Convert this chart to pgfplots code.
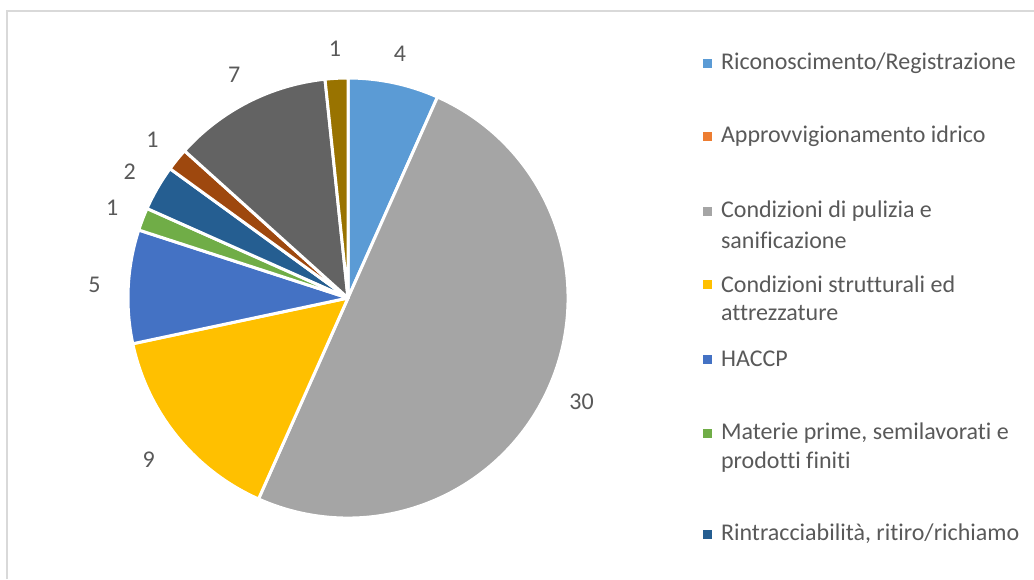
\documentclass[border=0pt]{standalone}
\usepackage{fontspec}
\setmainfont{Carlito}[Ligatures=CommonOff]
\usepackage{pgfplots}
\usepackage{pgfplotstable}
\pgfplotsset{compat=1.18}

\definecolor{sRic}{HTML}{5B9BD5}
\definecolor{sApp}{HTML}{ED7D31}
\definecolor{sPul}{HTML}{A5A5A5}
\definecolor{sStr}{HTML}{FFC000}
\definecolor{sHac}{HTML}{4472C4}
\definecolor{sMat}{HTML}{70AD47}
\definecolor{sRin}{HTML}{255E91}
\definecolor{sSeven}{HTML}{9E480E}
\definecolor{sEight}{HTML}{636363}
\definecolor{sNine}{HTML}{997300}
\definecolor{txt}{HTML}{595959}
\definecolor{frame}{HTML}{D9D9D9}

% one row per slice, clockwise from 12 o'clock
\pgfplotstableread{
value color
4  sRic
0  sApp
30 sPul
9  sStr
5  sHac
1  sMat
2  sRin
1  sSeven
7  sEight
1  sNine
}\piedata

\begin{document}
\begin{tikzpicture}
\begin{axis}[
    scale only axis,
    width=517pt, height=289.5pt,
    xmin=0, xmax=1034, ymin=0, ymax=579,
    y dir=reverse,
    axis lines=none,
    clip=false,
    font=\fontsize{12}{14.5}\selectfont,
]
% frame of the chart area
\draw[frame, line width=0.8pt] (axis cs:7,579) -- (axis cs:7,11) -- (axis cs:1034,11);

\pgfplotstablegetrowsof{\piedata}
\pgfmathtruncatemacro\nrows{\pgfplotsretval-1}
\def\total{0}
\pgfplotsforeachungrouped \i in {0,...,\nrows}{
  \pgfplotstablegetelem{\i}{value}\of\piedata
  \pgfmathsetmacro\total{\total+\pgfplotsretval}
}
\pgfmathsetmacro\degper{360/\total}
\def\cum{0}
\pgfplotsforeachungrouped \i in {0,...,\nrows}{
  \pgfplotstablegetelem{\i}{value}\of\piedata \let\v\pgfplotsretval
  \pgfplotstablegetelem{\i}{color}\of\piedata \let\c\pgfplotsretval
  \pgfmathsetmacro\aA{90-\degper*\cum}
  \pgfmathsetmacro\aB{90-\degper*(\cum+\v)}
  \pgfmathsetmacro\aM{(\aA+\aB)/2}
  \pgfmathsetmacro\dl{254-4*sin(\aM)}
  \pgfmathsetmacro\cum{\cum+\v}
  \ifnum\v>0
    \edef\temp{\noexpand\filldraw[fill=\c, draw=white, line width=1.5pt, line join=round]
      (axis cs:348,298) -- (axis cs:{348+220*cos(\aA)},{298-220*sin(\aA)})
      arc[start angle=\aA, end angle=\aB, radius=110pt] -- cycle;
      \noexpand\node[text=txt] at (axis cs:{348+\dl*cos(\aM)},{298-\dl*sin(\aM)}) {\v};}
    \temp
  \fi
}

% legend
\fill[sRic] (axis cs:703,58.5) rectangle (axis cs:712,67.5);
\node[anchor=west, text=txt] at (axis cs:714,63) {Riconoscimento/Registrazione};
\fill[sApp] (axis cs:703,131.5) rectangle (axis cs:712,140.5);
\node[anchor=west, text=txt] at (axis cs:714,136) {Approvvigionamento idrico};
\fill[sPul] (axis cs:703,206.5) rectangle (axis cs:712,215.5);
\node[anchor=west, text=txt] at (axis cs:714,211) {Condizioni di pulizia e};
\node[anchor=west, text=txt] at (axis cs:714,240) {sanificazione};
\fill[sStr] (axis cs:703,279.5) rectangle (axis cs:712,288.5);
\node[anchor=west, text=txt] at (axis cs:714,284) {Condizioni strutturali ed};
\node[anchor=west, text=txt] at (axis cs:714,313) {attrezzature};
\fill[sHac] (axis cs:703,354.5) rectangle (axis cs:712,363.5);
\node[anchor=west, text=txt] at (axis cs:714,359) {HACCP};
\fill[sMat] (axis cs:703,428.5) rectangle (axis cs:712,437.5);
\node[anchor=west, text=txt] at (axis cs:714,433) {Materie prime, semilavorati e};
\node[anchor=west, text=txt] at (axis cs:714,462) {prodotti finiti};
\fill[sRin] (axis cs:703,529.5) rectangle (axis cs:712,538.5);
\node[anchor=west, text=txt] at (axis cs:714,534) {Rintracciabilità, ritiro/richiamo};
\end{axis}
\pgfresetboundingbox
\path[use as bounding box] (current axis.south west) rectangle (current axis.north east);
\end{tikzpicture}
\end{document}
